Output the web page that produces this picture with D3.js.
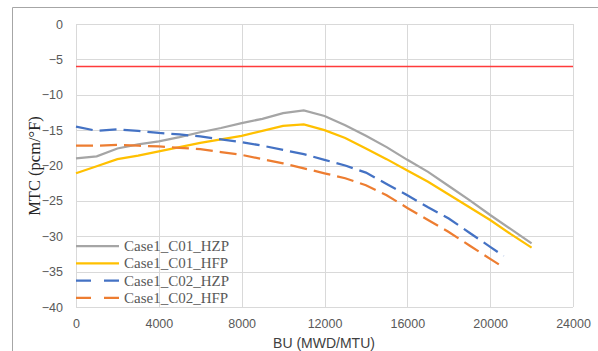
<!DOCTYPE html>
<html>
<head>
<meta charset="utf-8">
<script src="https://cdn.jsdelivr.net/npm/d3@7"></script>
<style>
  body { margin: 0; background: #fff; }
  .grid line { stroke: #d9d9d9; stroke-width: 1; }
  .tick text { fill: #595959; font-family: "Liberation Sans", Arial, sans-serif; font-size: 12.5px; }
</style>
</head>
<body>
<script>
//chart values
var seriesNames = ["Case1_C01_HZP", "Case1_C01_HFP", "Case1_C02_HZP", "Case1_C02_HFP"];
var seriesColors = ["#a5a5a5", "#ffc000", "#4472c4", "#ed7d31"];
var seriesDashed = [false, false, true, true];

var buC01 = [0, 1000, 2000, 3000, 4000, 5000, 6000, 7000, 8000, 9000, 10000, 11000, 12000, 13000, 14000, 15000, 16000, 17000, 18000, 19000, 20000, 21000, 22000];
var mtcC01HZP = [-19.0, -18.7, -17.6, -17.0, -16.6, -16.0, -15.3, -14.7, -14.0, -13.4, -12.6, -12.2, -13.0, -14.3, -15.8, -17.4, -19.2, -20.9, -22.9, -24.9, -27.0, -29.0, -31.0];
var mtcC01HFP = [-21.1, -20.1, -19.1, -18.6, -18.0, -17.4, -16.8, -16.3, -15.8, -15.1, -14.4, -14.2, -15.0, -16.1, -17.6, -19.1, -20.7, -22.3, -24.1, -25.9, -27.7, -29.7, -31.6];
var buC02 = [0, 1000, 2000, 3000, 4000, 5000, 6000, 7000, 8000, 9000, 10000, 11000, 12000, 13000, 14000, 15000, 16000, 17000, 18000, 19000, 20000, 20650];
var mtcC02HZP = [-14.5, -15.1, -14.9, -15.1, -15.4, -15.6, -15.9, -16.3, -16.7, -17.2, -17.8, -18.4, -19.2, -20.0, -21.0, -22.6, -24.2, -25.9, -27.5, -29.5, -31.5, -32.8];
var mtcC02HFP = [-17.2, -17.2, -17.1, -17.2, -17.3, -17.5, -17.7, -18.1, -18.5, -19.1, -19.7, -20.4, -21.1, -21.8, -22.8, -24.2, -26.0, -27.7, -29.4, -31.3, -33.2, -34.4];
var limitMTC = -6;

var xTicks = [0, 4000, 8000, 12000, 16000, 20000, 24000];
var yTicks = [0, -5, -10, -15, -20, -25, -30, -35, -40];

var seriesX = [buC01, buC01, buC02, buC02];
var seriesY = [mtcC01HZP, mtcC01HFP, mtcC02HZP, mtcC02HFP];

var width = 598, height = 351;
var margin = {left: 76, right: 25, top: 24, bottom: 44};

var svg = d3.select("body").append("svg")
    .attr("width", width)
    .attr("height", height);

//outer chart frame (only left and top visible in crop)
svg.append("path")
    .attr("d", "M12.5," + height + "V7.5H" + width)
    .attr("fill", "none")
    .attr("stroke", "#a6a6a6")
    .attr("stroke-width", 1);

var x = d3.scaleLinear().domain([0, 24000]).range([margin.left, width - margin.right]);
var y = d3.scaleLinear().domain([-40, 0]).range([height - margin.bottom, margin.top]);

//gridlines
var grid = svg.append("g").attr("class", "grid");
grid.selectAll(".gx").data(xTicks).enter().append("line")
    .attr("x1", function(d){ return Math.round(x(d)) + 0.5; })
    .attr("x2", function(d){ return Math.round(x(d)) + 0.5; })
    .attr("y1", y(0)).attr("y2", y(-40));
grid.selectAll(".gy").data(yTicks).enter().append("line")
    .attr("y1", function(d){ return Math.round(y(d)) + 0.5; })
    .attr("y2", function(d){ return Math.round(y(d)) + 0.5; })
    .attr("x1", x(0)).attr("x2", x(24000));

//axes (labels only)
var xAxis = svg.append("g")
    .attr("transform", "translate(0," + y(-40) + ")")
    .call(d3.axisBottom(x).tickValues(xTicks).tickSize(0).tickPadding(12).tickFormat(d3.format("d")));
var yAxis = svg.append("g")
    .attr("transform", "translate(" + x(0) + ",0)")
    .call(d3.axisLeft(y).tickValues(yTicks).tickSize(0).tickPadding(13).tickFormat(d3.format("d")));
svg.selectAll(".domain").remove();

//limit line
svg.append("line")
    .attr("x1", x(0)).attr("x2", x(24000))
    .attr("y1", y(limitMTC)).attr("y2", y(limitMTC))
    .attr("stroke", "#ff3b3b")
    .attr("stroke-width", 1.5);

//series lines
var line = d3.line()
    .x(function(d){ return x(d[0]); })
    .y(function(d){ return y(d[1]); });

seriesNames.forEach(function(name, i){
    var pts = seriesX[i].map(function(v, j){ return [v, seriesY[i][j]]; });
    svg.append("path")
        .datum(pts)
        .attr("class", "series")
        .attr("fill", "none")
        .attr("stroke", seriesColors[i])
        .attr("stroke-width", 2.25)
        .attr("stroke-dasharray", seriesDashed[i] ? "17,7" : null)
        .attr("d", line);
});

//legend
var legend = svg.append("g").attr("transform", "translate(" + x(0) + ",246)");
seriesNames.forEach(function(name, i){
    var row = legend.append("g").attr("transform", "translate(0," + (i * 17.3) + ")");
    row.append("line")
        .attr("x1", 0).attr("x2", 43)
        .attr("y1", 0).attr("y2", 0)
        .attr("stroke", seriesColors[i])
        .attr("stroke-width", 2.25)
        .attr("stroke-dasharray", seriesDashed[i] ? "15,13" : null);
    row.append("text")
        .attr("x", 48).attr("y", 5)
        .attr("fill", "#595959")
        .style("font-family", "'Liberation Serif', 'Times New Roman', serif")
        .style("font-size", "15px")
        .text(name);
});

//axis titles
svg.append("text")
    .attr("transform", "translate(40,166) rotate(-90)")
    .attr("text-anchor", "middle")
    .attr("fill", "#262626")
    .style("font-family", "'Liberation Serif', 'Times New Roman', serif")
    .style("font-size", "16.5px")
    .text("MTC (pcm/\u00B0F)");

svg.append("text")
    .attr("x", 324).attr("y", 348)
    .attr("text-anchor", "middle")
    .attr("fill", "#404040")
    .style("font-family", "'Liberation Sans', Arial, sans-serif")
    .style("font-size", "14px")
    .text("BU (MWD/MTU)");
</script>
</body>
</html>
